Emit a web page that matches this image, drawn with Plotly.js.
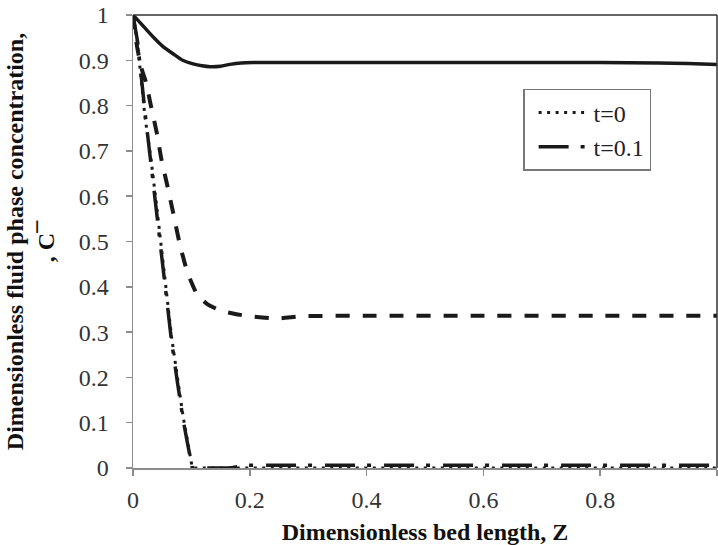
<!DOCTYPE html>
<html><head><meta charset="utf-8">
<script src="https://cdn.plot.ly/plotly-3.0.1.min.js"></script>
<style>body{margin:0;background:#fff}#chart{width:718px;height:545px}</style>
</head><body><div id="chart"></div>
<script>
// Solid curve
const zSolid = [0, 0.02, 0.035, 0.05, 0.069, 0.085, 0.103, 0.118, 0.132, 0.15, 0.166, 0.185, 0.206, 0.3, 0.4, 0.5, 0.6, 0.7, 0.8, 0.9, 0.95, 1.0];
const cSolid = [1, 0.972, 0.951, 0.932, 0.914, 0.900, 0.892, 0.888, 0.886, 0.887, 0.891, 0.894, 0.895, 0.895, 0.895, 0.895, 0.895, 0.895, 0.895, 0.894, 0.893, 0.891];
// Dashed curve
const zDash = [0, 0.007, 0.015, 0.023, 0.029, 0.041, 0.049, 0.058, 0.069, 0.080, 0.092, 0.100, 0.109, 0.126, 0.149, 0.175, 0.200, 0.246, 0.291, 0.4, 0.6, 0.8, 1.0];
const cDash = [1, 0.93, 0.88, 0.848, 0.81, 0.738, 0.679, 0.628, 0.562, 0.495, 0.437, 0.41, 0.385, 0.363, 0.348, 0.34, 0.335, 0.330, 0.335, 0.336, 0.336, 0.336, 0.336];
// t=0 (dotted)
const zT0 = [0, 0.0075, 0.0205, 0.031, 0.043, 0.054, 0.066, 0.076, 0.086, 0.094, 0.1015, 0.2, 0.4, 0.6, 0.8, 1.0];
const cT0 = [1, 0.94, 0.775, 0.68, 0.55, 0.42, 0.29, 0.2, 0.112, 0.055, 0, 0, 0, 0, 0, 0];
// t=0.1 (dash-dot)
const zT1 = [0, 0.008, 0.021, 0.032, 0.043, 0.054, 0.066, 0.076, 0.086, 0.094, 0.1015, 0.12, 0.15, 0.166, 0.18, 0.197, 0.22, 0.3, 0.4, 0.5, 0.6, 0.7, 0.8, 0.9, 1.0];
const cT1 = [1, 0.94, 0.78, 0.66, 0.53, 0.41, 0.28, 0.19, 0.105, 0.05, 0, 0, 0, 0, 0.003, 0.006, 0.006, 0.006, 0.006, 0.006, 0.006, 0.006, 0.006, 0.006, 0.006];

const names = ['t=0', 't=0.1'];
const xTicks = [0, 0.2, 0.4, 0.6, 0.8, 1];
const xTickText = ['0', '0.2', '0.4', '0.6', '0.8', '1'];
const yTicks = [0, 0.1, 0.2, 0.3, 0.4, 0.5, 0.6, 0.7, 0.8, 0.9, 1];
const yTickText = ['0', '0.1', '0.2', '0.3', '0.4', '0.5', '0.6', '0.7', '0.8', '0.9', '1'];

const ink = '#1a1a1a';
const serif = 'Liberation Serif, Times New Roman, serif';

const traces = [
  {x: zSolid, y: cSolid, mode: 'lines', showlegend: false, line: {color: ink, width: 3.5, shape: 'spline', smoothing: 0.6}},
  {x: zDash, y: cDash, mode: 'lines', showlegend: false, line: {color: ink, width: 4, dash: '14px,13px', shape: 'spline', smoothing: 0.6}},
  {x: zT0, y: cT0, mode: 'lines', name: names[0], line: {color: ink, width: 3, dash: '3px,5.5px'}},
  {x: zT1, y: cT1, mode: 'lines', name: names[1], line: {color: ink, width: 3.5, dash: '30px,12px,4px,13px'}}
];

const layout = {
  width: 718, height: 545,
  margin: {l: 133, r: 1, t: 14.5, b: 77},
  paper_bgcolor: '#fff', plot_bgcolor: '#fff',
  font: {family: serif, color: '#222'},
  showlegend: true,
  legend: {
    x: 0.668, y: 0.837, xanchor: 'left', yanchor: 'top',
    bgcolor: '#fff', bordercolor: '#777', borderwidth: 1.5,
    font: {family: serif, size: 24, color: '#222'},
    traceorder: 'normal', itemwidth: 50, indentation: 9
  },
  xaxis: {
    range: [0, 1], tickvals: xTicks, ticktext: xTickText,
    showgrid: false, zeroline: false, showline: true, linecolor: '#8c8c8c', linewidth: 1.5,
    ticks: 'outside', ticklen: 6, tickcolor: '#8c8c8c', tickwidth: 1.5,
    tickfont: {family: serif, size: 24, color: '#333'}, ticklabelstandoff: 4,
    title: {text: '<b>Dimensionless bed length, Z</b>', font: {family: serif, size: 24, color: '#111'}}
  },
  yaxis: {
    range: [0, 1], tickvals: yTicks, ticktext: yTickText,
    showgrid: false, zeroline: false, showline: true, linecolor: '#8c8c8c', linewidth: 1.5,
    ticks: 'outside', ticklen: 6, tickcolor: '#8c8c8c', tickwidth: 1.5,
    tickfont: {family: serif, size: 24, color: '#333'}, ticklabelstandoff: 12,
    automargin: true,
    title: {text: '<b>Dimensionless fluid phase concentration,<br>, C¯</b>', standoff: 17, font: {family: serif, size: 24, color: '#111'}}
  },
  shapes: [
    {type: 'line', xref: 'paper', yref: 'paper', x0: 0, x1: 1, y0: 1, y1: 1, line: {color: '#333', width: 1.5}},
    {type: 'line', xref: 'paper', yref: 'paper', x0: 1, x1: 1, y0: 0, y1: 1, line: {color: '#333', width: 1.5}}
  ]
};

Plotly.newPlot('chart', traces, layout, {displayModeBar: false, staticPlot: true});
</script>
</body></html>
